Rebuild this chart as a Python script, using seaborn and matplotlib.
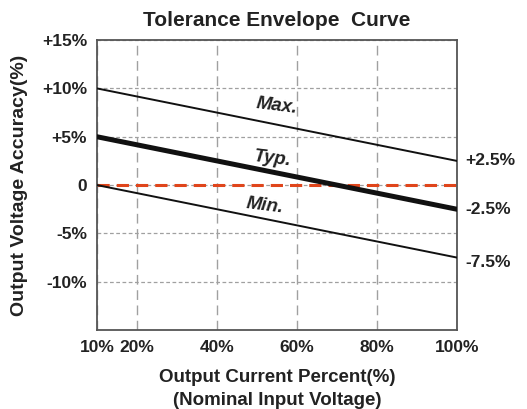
import matplotlib
matplotlib.use("Agg")
import matplotlib.pyplot as plt
import seaborn as sns
import pandas as pd

load_pct = [10, 100]
max_acc = [10, 2.5]
typ_acc = [5, -2.5]
min_acc = [0, -7.5]

x_ticks = [10, 20, 40, 60, 80, 100]
x_labels = ["10%", "20%", "40%", "60%", "80%", "100%"]
y_ticks = [15, 10, 5, 0, -5, -10]
y_labels = ["+15%", "+10%", "+5%", "0", "-5%", "-10%"]
end_labels = ["+2.5%", "-2.5%", "-7.5%"]

df = pd.DataFrame({"load": load_pct, "Max.": max_acc, "Typ.": typ_acc, "Min.": min_acc})

sns.set_style("white")
plt.rcParams['font.family'] = ['Liberation Sans', 'DejaVu Sans']

fig = plt.figure(figsize=(5.27, 4.09), dpi=100)
ax = fig.add_axes([0.184, 0.193, 0.683, 0.709])

ax.set_xlim(10, 100)
ax.set_ylim(-15, 15)
ax.set_xticks(x_ticks)
ax.set_xticklabels(x_labels, fontsize=12.5, fontweight='bold', color='#222222')
ax.set_yticks(y_ticks)
ax.set_yticklabels(y_labels, fontsize=12.5, fontweight='bold', color='#222222')
ax.tick_params(length=0, pad=7)

ax.xaxis.grid(True, color='#a0a0a0', linestyle=(0, (7, 4)), linewidth=1)
ax.yaxis.grid(True, color='#a0a0a0', linestyle=(0, (3, 2)), linewidth=0.9)
ax.set_axisbelow(True)
for s in ax.spines.values():
    s.set_color('#555555')
    s.set_linewidth(1.3)

ax.axhline(0, color='#e0451b', linestyle=(0, (4, 2.3)), linewidth=2.2, zorder=2)

sns.lineplot(data=df, x="load", y="Max.", color='#111111', linewidth=1.4, ax=ax, zorder=3)
sns.lineplot(data=df, x="load", y="Typ.", color='#111111', linewidth=3.6, ax=ax, zorder=3)
sns.lineplot(data=df, x="load", y="Min.", color='#111111', linewidth=1.4, ax=ax, zorder=3)

# line names
ax.text(55, 8.2, "Max.", fontsize=13.5, fontweight='bold', style='italic', rotation=-7,
        ha='center', va='center', color='#222222')
ax.text(54, 2.7, "Typ.", fontsize=13.5, fontweight='bold', style='italic', rotation=-7,
        ha='center', va='center', color='#222222')
ax.text(52, -2.1, "Min.", fontsize=13.5, fontweight='bold', style='italic', rotation=-7,
        ha='center', va='center', color='#222222')

# end values on the right
for yv, lab in zip([2.5, -2.5, -8.0], end_labels):
    ax.annotate(lab, xy=(100, yv), xytext=(6, 0), textcoords='offset points',
                fontsize=12.5, fontweight='bold', ha='left', va='center', color='#222222',
                annotation_clip=False)

ax.set_title("Tolerance Envelope  Curve", fontsize=15, fontweight='bold', color='#222222', pad=10)
ax.set_xlabel("Output Current Percent(%)\n(Nominal Input Voltage)", fontsize=13.5,
              fontweight='bold', color='#222222', labelpad=10, linespacing=1.45)
ax.set_ylabel("Output Voltage Accuracy(%)", fontsize=14, fontweight='bold', color='#222222', labelpad=10)

fig.savefig("out.png", dpi=100)
